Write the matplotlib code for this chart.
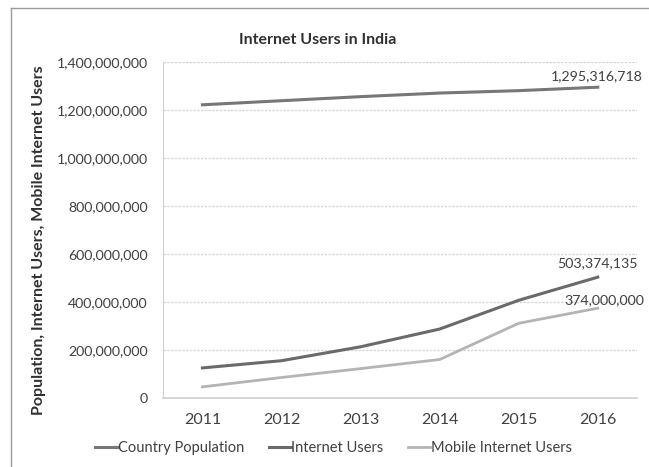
import matplotlib.pyplot as plt
from matplotlib.lines import Line2D
from matplotlib.ticker import FuncFormatter

years = ["2011", "2012", "2013", "2014", "2015", "2016"]
country_population = [1222000000, 1239000000, 1256000000, 1271000000, 1281000000, 1295316718]
internet_users = [125000000, 155000000, 213000000, 287000000, 407000000, 503374135]
mobile_users = [46000000, 85000000, 122000000, 160000000, 311000000, 374000000]

plt.rcParams['font.family'] = ['Lato', 'DejaVu Sans']

fig = plt.figure(figsize=(6.49, 4.67), dpi=100)
ax = fig.add_axes([0.251, 0.148, 0.731, 0.719])

x = list(range(len(years)))
ax.plot(x, country_population, color='#777777', lw=2.2, label='Country Population')
ax.plot(x, internet_users, color='#6a6a6a', lw=2.2, label='Internet Users')
ax.plot(x, mobile_users, color='#b4b4b4', lw=2.0, label='Mobile Internet Users')

ax.set_xlim(-0.5, len(years) - 0.5)
ax.set_ylim(0, 1400000000)
ax.set_yticks(range(0, 1400000001, 200000000))
ax.yaxis.set_major_formatter(FuncFormatter(lambda v, p: f"{int(v):,}"))
ax.set_xticks(x)
ax.set_xticklabels(years)
ax.tick_params(axis='y', length=0, labelsize=10.2, colors='#404040', pad=11)
ax.tick_params(axis='x', length=0, labelsize=11.5, colors='#404040', pad=11)

ax.grid(axis='y', color='#d4d4d4', lw=0.9, ls=(0, (2, 1)))
ax.set_axisbelow(True)
for s in ['top', 'right']:
    ax.spines[s].set_visible(False)
ax.spines['left'].set_color('#d0d0d0')
ax.spines['bottom'].set_color('#d0d0d0')
ax.spines['bottom'].set_linewidth(1.2)

# data labels on last points
last = len(years) - 1
for vals, dx, dy in [(country_population, -1, 8), (internet_users, 0, 10), (mobile_users, 5, 6)]:
    ax.annotate(f"{vals[last]:,}", (last, vals[last]), xytext=(dx, dy),
                textcoords='offset points', ha='center', va='center',
                fontsize=10.2, color='#404040')

ax.set_ylabel("Population, Internet Users, Mobile Internet Users",
              fontsize=11.5, fontweight='bold', color='#303030')
ax.yaxis.set_label_coords(-0.262, 0.47)
ax.yaxis.label.set_va('center')
fig.text(0.49, 0.914, "Internet Users in India", ha='center', va='center',
         fontsize=11.5, fontweight='bold', color='#303030')

fig.legend(loc='center', bbox_to_anchor=(0.514, 0.041), ncol=3, frameon=False,
           fontsize=10.5, handlelength=1.5, handletextpad=0.05, columnspacing=1.7,
           labelcolor='#404040')

# chart frame (left and top edges visible)
fx = 11 / 649
fy = 1 - 8 / 467
fig.add_artist(Line2D([fx, fx], [0, fy], color='#9a9a9a', lw=1.0, transform=fig.transFigure))
fig.add_artist(Line2D([fx, 1], [fy, fy], color='#9a9a9a', lw=1.0, transform=fig.transFigure))

fig.savefig("out.png", dpi=100)
